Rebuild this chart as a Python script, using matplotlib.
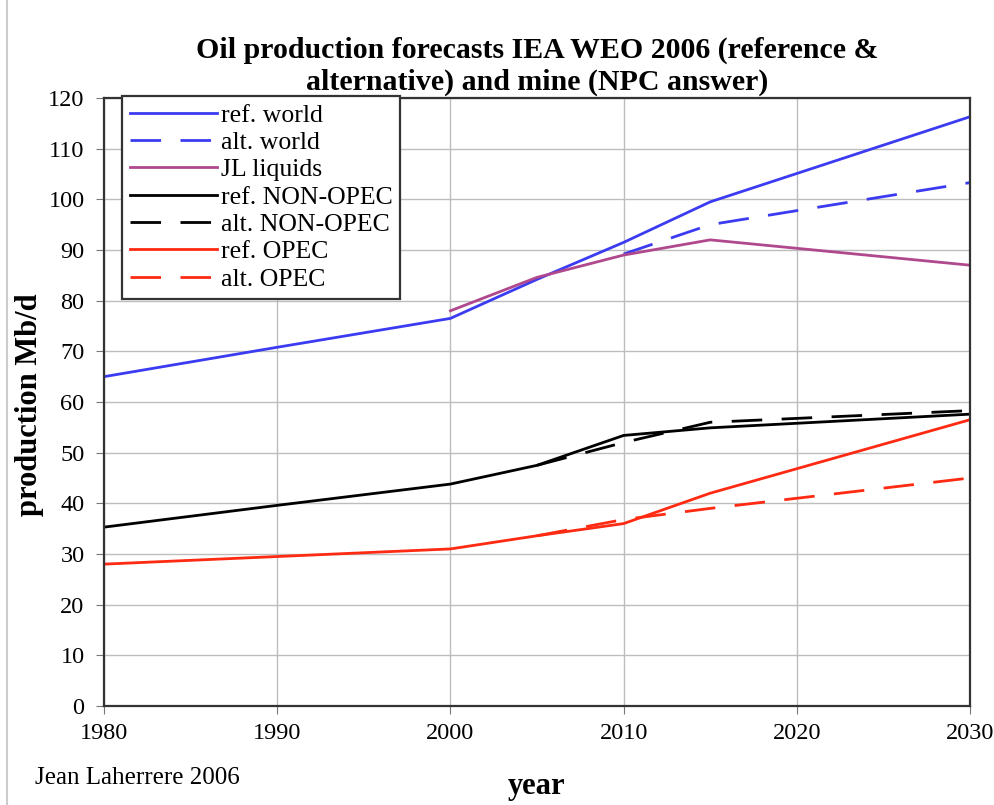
import matplotlib
matplotlib.use("Agg")
import matplotlib.pyplot as plt
from matplotlib.lines import Line2D

# years and values (Mb/d)
years_hist = [1980, 1990, 2000, 2005, 2010, 2015, 2030]
ref_world = [65.0, 70.8, 76.5, 84.2, 91.5, 99.5, 116.3]
ref_nonopec = [35.3, 39.6, 43.8, 47.5, 53.4, 54.9, 57.6]
ref_opec = [28.0, 29.5, 31.0, 33.6, 36.0, 42.0, 56.5]

years_alt = [2010, 2015, 2030]
alt_world = [89.2, 95.0, 103.3]

years_alt2 = [2005, 2010, 2015, 2030]
alt_nonopec = [47.5, 52.0, 56.0, 58.3]
alt_opec = [33.6, 36.8, 39.0, 45.0]

years_jl = [2000, 2005, 2010, 2015, 2030]
jl_liquids = [78.0, 84.6, 89.0, 92.0, 87.0]

plt.rcParams['font.family'] = ['Liberation Serif', 'DejaVu Serif']

blue = '#3b3bf2'
purple = '#b0488e'
red = '#ff2a12'
dash = (11, 7)
lw = 2.0

fig = plt.figure(figsize=(9.94, 8.05), dpi=100)
ax = fig.add_axes([104 / 994, 1 - 706 / 805, 866 / 994, 608 / 805])

ax.plot(years_hist, ref_world, color=blue, lw=lw, label='ref. world')
ax.plot(years_alt, alt_world, color=blue, lw=lw, dashes=dash, label='alt. world')
ax.plot(years_jl, jl_liquids, color=purple, lw=lw, label='JL liquids')
ax.plot(years_hist, ref_nonopec, color='black', lw=lw, label='ref. NON-OPEC')
ax.plot(years_alt2, alt_nonopec, color='black', lw=lw, dashes=dash, label='alt. NON-OPEC')
ax.plot(years_hist, ref_opec, color=red, lw=lw, label='ref. OPEC')
ax.plot(years_alt2, alt_opec, color=red, lw=lw, dashes=dash, label='alt. OPEC')

ax.set_xlim(1980, 2030)
ax.set_ylim(0, 120)
ax.set_xticks(range(1980, 2031, 10))
ax.set_yticks(range(0, 121, 10))
ax.grid(True, color='#bdbdbd', lw=1.0)
ax.tick_params(labelsize=17.5, length=6, color='#777777')
ax.tick_params(axis='x', pad=6)
ax.tick_params(axis='y', pad=8)
for s in ax.spines.values():
    s.set_color('#333333')
    s.set_linewidth(1.6)

ax.set_title('Oil production forecasts IEA WEO 2006 (reference &\nalternative) and mine (NPC answer)',
             fontsize=21.5, fontweight='bold', pad=6, linespacing=1.2)
ax.set_ylabel('production Mb/d', fontsize=22, fontweight='bold')
ax.yaxis.set_label_coords((44 - 104) / 866, 0.495)
ax.set_xlabel('year', fontsize=22, fontweight='bold')
ax.xaxis.set_label_coords((537 - 104) / 866, (706 - 772) / 608)
fig.text(35 / 994, 1 - 778 / 805, 'Jean Laherrere 2006', fontsize=18, va='center')

# thin grey border on the left of the picture
fig.add_artist(Line2D([7 / 994, 7 / 994], [0, 1], transform=fig.transFigure,
                      color='#cccccc', lw=1.5))

leg = ax.legend(loc='upper left', bbox_to_anchor=((122 - 104) / 866, (706 - 96) / 608),
                borderaxespad=0, fontsize=18.5, handlelength=3.4, handletextpad=0.15,
                labelspacing=0.17, fancybox=False, framealpha=1,
                edgecolor='#333333', borderpad=0.3)
leg.get_frame().set_linewidth(1.6)

fig.savefig('out.png', dpi=100)
